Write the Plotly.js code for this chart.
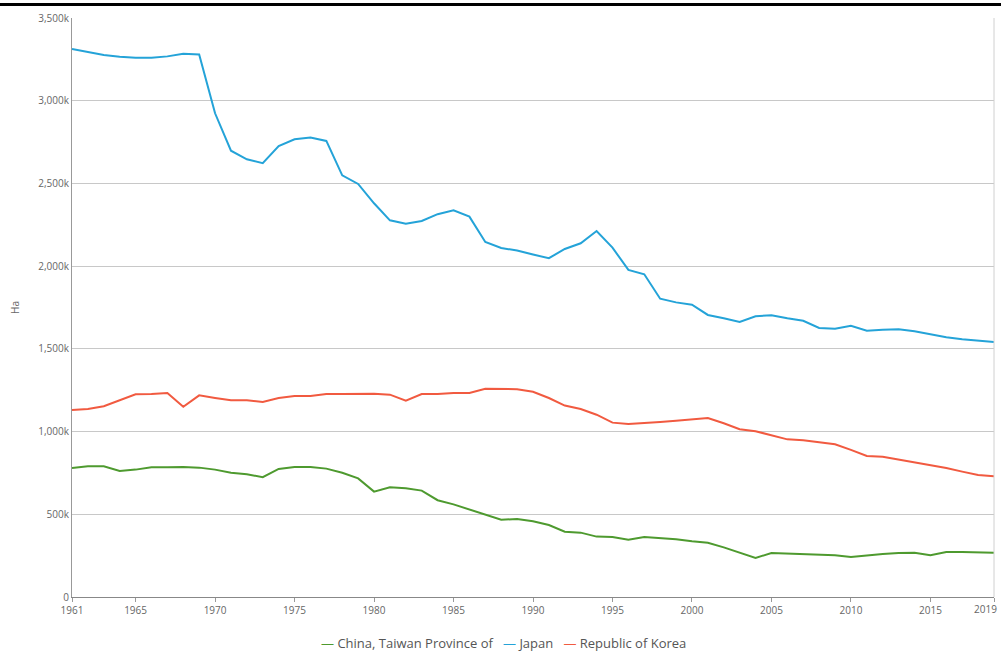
<!DOCTYPE html>
<html>
<head>
<meta charset="utf-8">
<script src="https://cdn.plot.ly/plotly-3.0.1.min.js"></script>
<style>
  html, body { margin: 0; padding: 0; background: #fff; }
  #topbar { position: absolute; left: 0; top: 3px; width: 1001px; height: 3px; background: #000; z-index: 5; }
  #chart { position: absolute; left: 0; top: 0; width: 1001px; height: 652px; }
</style>
</head>
<body>
<div id="chart"></div>
<div id="topbar"></div>
<script>
const years = [];
for (let y = 1961; y <= 2019; y++) years.push(y);

const taiwan = [780, 790, 790, 762, 770, 784, 784, 786, 782, 770,
  751, 742, 724, 774, 786, 786, 776, 751, 717, 637,
  663, 657, 643, 585, 560, 530, 498, 467, 472, 458,
  435, 395, 389, 365, 363, 346, 363, 357, 349, 337,
  328, 300, 268, 236, 266, 262, 258, 252, 252, 242,
  252, 260, 266, 268, 252, 272, 272, 270, 268];

const japan = [3313, 3296, 3276, 3266, 3260, 3260, 3268, 3284, 3280, 2924,
  2698, 2646, 2622, 2726, 2767, 2777, 2757, 2549, 2497, 2380,
  2277, 2257, 2273, 2314, 2338, 2299, 2146, 2110, 2094, 2070,
  2048, 2104, 2138, 2212, 2112, 1977, 1951, 1803, 1781, 1767,
  1705, 1685, 1662, 1697, 1703, 1685, 1670, 1626, 1622, 1640,
  1610, 1616, 1618, 1606, 1588, 1570, 1558, 1550, 1541];

const korea = [1131, 1137, 1153, 1191, 1225, 1227, 1233, 1150, 1219, 1203,
  1189, 1189, 1179, 1203, 1215, 1215, 1227, 1227, 1229, 1229,
  1223, 1187, 1227, 1227, 1233, 1233, 1259, 1259, 1256, 1241,
  1203, 1157, 1136, 1102, 1054, 1046, 1050, 1058, 1066, 1072,
  1082, 1050, 1014, 1002, 979, 953, 947, 935, 923, 889,
  852, 848, 832, 816, 800, 780, 758, 738, 730];

const seriesNames = ["China, Taiwan Province of", "Japan", "Republic of Korea"];
const seriesColors = ["#4e9a2f", "#24a3d8", "#f15a40"];

const xTicks = [1961, 1965, 1970, 1975, 1980, 1985, 1990, 1995, 2000, 2005, 2010, 2015, 2019];
const yTickVals = [0, 500, 1000, 1500, 2000, 2500, 3000, 3500];
const yTickText = ["0", "500k", "1,000k", "1,500k", "2,000k", "2,500k", "3,000k", "3,500k"];

const toHa = arr => arr.map(v => v * 1000);

const data = [taiwan, japan, korea].map((s, i) => ({
  x: years,
  y: toHa(s),
  type: 'scatter',
  mode: 'lines',
  name: seriesNames[i],
  line: { color: seriesColors[i], width: 2 }
}));

const legendText = seriesNames.map((n, i) =>
  '<span style="color:' + seriesColors[i] + '">\u2014</span> ' + n
).join('   ');

const lastTick = xTicks[xTicks.length - 1];

const layout = {
  width: 1001,
  height: 652,
  margin: { l: 72, r: 7, t: 18, b: 55, autoexpand: false },
  paper_bgcolor: '#fff',
  plot_bgcolor: '#fff',
  font: { family: 'Open Sans, Noto Sans, sans-serif', color: '#666', size: 10 },
  showlegend: false,
  xaxis: {
    range: [1961, 2019],
    tickvals: xTicks,
    ticktext: xTicks.map(t => t === lastTick ? '' : String(t)),
    ticks: 'outside',
    ticklen: 4,
    tickcolor: '#999',
    showgrid: false,
    showline: true,
    linecolor: '#888',
    linewidth: 1,
    zeroline: false,
    tickfont: { size: 10, color: '#666' }
  },
  yaxis: {
    range: [0, 3500000],
    tickvals: toHa(yTickVals),
    ticktext: yTickText,
    showgrid: true,
    gridcolor: '#c8c8c8',
    gridwidth: 1,
    showline: true,
    linecolor: '#999',
    linewidth: 1,
    zeroline: false,
    ticks: '',
    tickfont: { size: 10, color: '#666' },
    title: { text: 'Ha', font: { size: 10, color: '#666' }, standoff: 16 }
  },
  shapes: [
    { type: 'line', xref: 'paper', yref: 'paper', x0: 1, x1: 1, y0: 0, y1: 1,
      line: { color: '#d0d0d0', width: 1 } }
  ],
  annotations: [
    { xref: 'x', yref: 'paper', x: lastTick, y: 0, xanchor: 'right', yanchor: 'top',
      xshift: 5, yshift: -3, showarrow: false, text: String(lastTick),
      font: { size: 10, color: '#666' } },
    { xref: 'paper', yref: 'paper', x: 0.4685, y: -0.0795, xanchor: 'center', yanchor: 'middle',
      showarrow: false, text: legendText, font: { size: 13, color: '#555' } }
  ]
};

Plotly.newPlot('chart', data, layout, { displayModeBar: false, staticPlot: true });
</script>
</body>
</html>
